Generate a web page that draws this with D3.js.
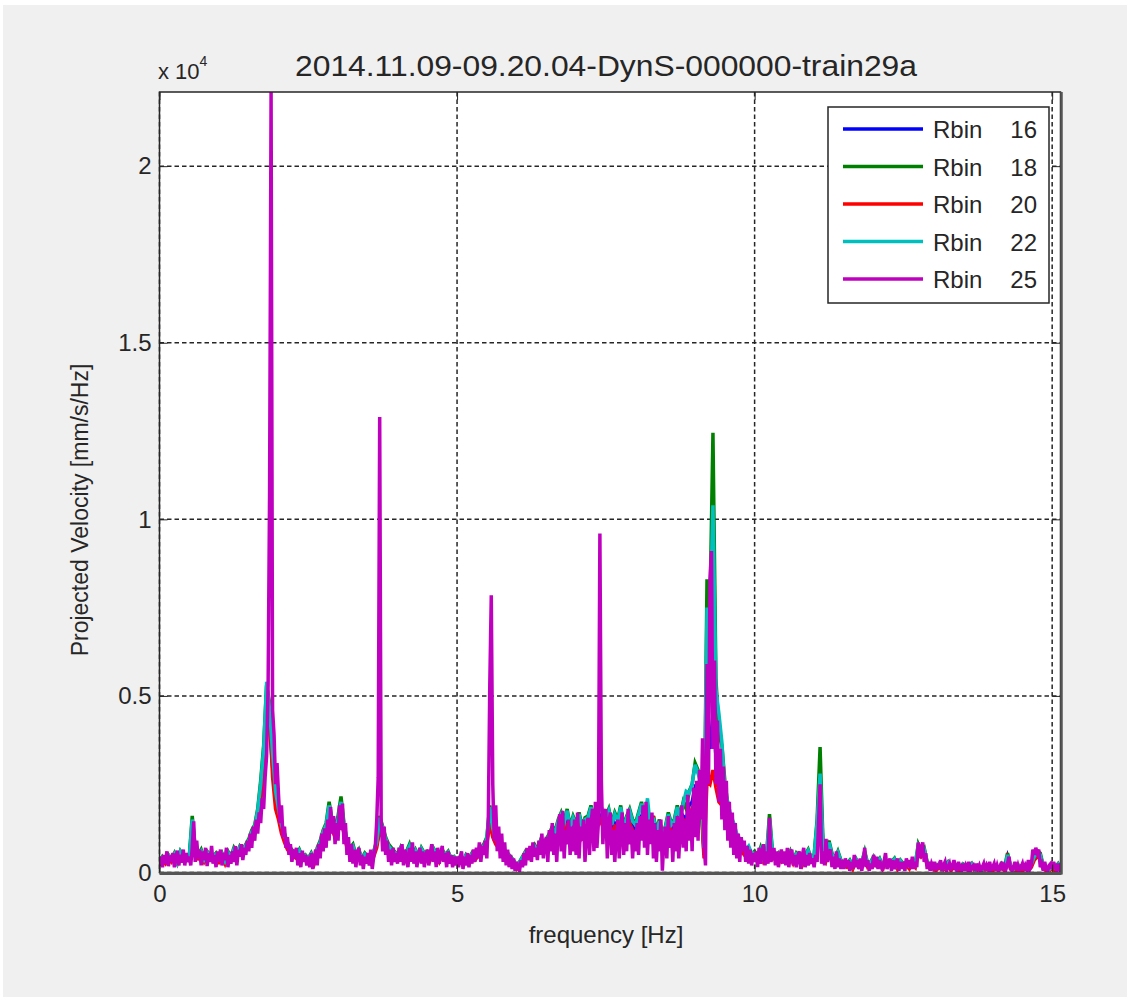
<!DOCTYPE html>
<html>
<head>
<meta charset="utf-8">
<script src="https://cdn.jsdelivr.net/npm/d3@7"></script>
<style>
  body { margin: 0; background: #fff; }
  svg text { font-family: "Liberation Sans", Arial, Helvetica, sans-serif; fill: #262626; }
</style>
</head>
<body>
<div id="container"></div>
<script>
// spectrum values, mm/s/Hz
var titleText = '2014.11.09-09.20.04-DynS-000000-train29a';
var xTicks = [0, 5, 10, 15];
var yTicks = [0, 5000, 10000, 15000, 20000];
var yTickLabels = ['0', '0.5', '1', '1.5', '2'];
var binLabels = ['16', '18', '20', '22', '25'];
var binColors = ['#0000ff', '#008000', '#ff0000', '#00bfbf', '#bf00bf'];
var dfCoarse = 0.05;  // Hz per sample, Rbin 16..22
var dfFine = 0.025;   // Hz per sample, Rbin 25

var rbin16 = [
  250, 400, 300, 450, 350, 500, 300, 550, 400, 450,
  400, 1300, 600, 450, 550, 350, 500, 450, 400, 500,
  350, 500, 300, 550, 400, 600, 500, 650, 600, 700,
  850, 1000, 1200, 1600, 2300, 3200, 4300, 4100, 3000, 2100,
  1700, 1300, 1000, 750, 600, 550, 450, 550, 400, 450,
  350, 500, 300, 600, 800, 1000, 1200, 1600, 1300, 1100,
  1300, 1700, 1200, 800, 600, 700, 450, 550, 350, 500,
  400, 300, 500, 800, 1300, 1100, 850, 700, 600, 500,
  450, 600, 400, 550, 700, 450, 550, 400, 600, 500,
  550, 400, 600, 500, 350, 550, 450, 500, 350, 400,
  300, 400, 250, 450, 350, 500, 400, 500, 600, 700,
  900, 1500, 1100, 900, 800, 700, 550, 500, 400, 300,
  150, 250, 400, 500, 450, 600, 700, 550, 800, 650,
  800, 950, 1100, 1000, 1300, 1400, 1200, 1500, 1100, 1300,
  1200, 1400, 1100, 1300, 1350, 1600, 1300, 1500, 1600, 1400,
  1300, 1500, 1200, 1400, 1300, 1600, 1100, 1300, 1500, 1300,
  1200, 1400, 1600, 1300, 1500, 1100, 1300, 1000, 1300, 900,
  1100, 1400, 1200, 1300, 1600, 1300, 1600, 1500, 1900, 2000,
  2400, 2300, 2100, 500, 4000, 3500, 4500, 3300, 2800, 2600,
  2000, 1500, 1200, 1000, 850, 750, 650, 500, 600, 450,
  500, 400, 600, 350, 450, 1300, 500, 400, 450, 350,
  450, 350, 500, 300, 450, 400, 250, 450, 550, 350,
  400, 1200, 2500, 650, 400, 750, 450, 350, 500, 300,
  250, 200, 300, 150, 350, 200, 250, 500, 200, 250,
  400, 250, 350, 150, 300, 300, 250, 350, 150, 300,
  200, 250, 150, 300, 200, 650, 500, 600, 250, 150,
  150, 100, 200, 100, 150, 250, 100, 200, 150, 100,
  200, 150, 100, 200, 100, 150, 100, 100, 150, 100,
  100, 150, 100, 200, 100, 450, 150, 100, 100, 150,
  100, 150, 100, 200, 400, 500, 450, 150, 100, 100,
  150, 100, 200, 100
];

var rbin18 = [
  300, 450, 350, 500, 400, 550, 300, 600, 450, 500,
  450, 1600, 700, 500, 650, 400, 600, 500, 450, 550,
  400, 550, 350, 600, 450, 700, 550, 750, 650, 800,
  950, 1200, 1350, 1800, 2600, 3600, 5300, 4800, 3600, 2400,
  1900, 1400, 1100, 850, 700, 600, 500, 650, 450, 500,
  400, 550, 350, 700, 900, 1200, 1400, 2000, 1500, 1300,
  1600, 2150, 1400, 900, 700, 800, 500, 650, 400, 550,
  450, 350, 600, 900, 1600, 1300, 1000, 800, 700, 600,
  500, 700, 450, 600, 800, 500, 650, 450, 700, 550,
  600, 450, 700, 550, 400, 650, 500, 600, 400, 450,
  350, 450, 300, 500, 400, 550, 450, 600, 700, 800,
  1000, 1900, 1300, 1000, 900, 800, 600, 550, 450, 350,
  200, 300, 450, 600, 500, 700, 800, 650, 900, 750,
  950, 1100, 1300, 1200, 1500, 1700, 1450, 1800, 1300, 1600,
  1400, 1700, 1300, 1550, 1600, 1900, 1500, 1800, 2000, 1700,
  1600, 1800, 1400, 1700, 1500, 1900, 1300, 1600, 1800, 1500,
  1400, 1700, 2000, 1500, 1800, 1300, 1600, 1200, 1500, 1100,
  1300, 1700, 1400, 1500, 1900, 1600, 2000, 1800, 2300, 2500,
  3100, 2900, 2600, 600, 8300, 7400, 12450, 5500, 3900, 3600,
  2600, 1900, 1500, 1300, 1000, 900, 800, 600, 700, 500,
  600, 450, 700, 400, 500, 1650, 600, 450, 550, 400,
  500, 400, 600, 350, 550, 450, 300, 500, 650, 400,
  500, 1500, 3550, 800, 450, 900, 550, 400, 600, 350,
  300, 250, 350, 200, 400, 250, 300, 600, 250, 300,
  450, 300, 400, 200, 350, 250, 300, 400, 200, 350,
  250, 300, 200, 350, 250, 800, 600, 700, 300, 200,
  200, 150, 250, 100, 200, 300, 150, 250, 200, 150,
  250, 200, 150, 250, 100, 200, 150, 100, 200, 150,
  150, 200, 100, 250, 150, 550, 200, 100, 150, 200,
  150, 200, 100, 250, 500, 600, 550, 200, 150, 100,
  200, 150, 250, 100
];

var rbin20 = [
  200, 350, 250, 400, 300, 450, 250, 500, 350, 400,
  350, 1100, 550, 400, 500, 300, 450, 400, 350, 450,
  300, 450, 250, 500, 350, 550, 450, 600, 550, 650,
  800, 900, 1100, 1500, 2000, 2900, 4000, 4500, 2700, 1800,
  1500, 1100, 850, 650, 550, 450, 400, 500, 350, 400,
  300, 450, 250, 550, 700, 900, 1100, 1400, 1200, 1000,
  1200, 1500, 1100, 700, 550, 600, 400, 500, 300, 450,
  350, 250, 450, 700, 1200, 1000, 800, 650, 550, 450,
  400, 550, 350, 500, 650, 400, 500, 350, 550, 450,
  500, 350, 550, 450, 300, 500, 400, 450, 300, 350,
  250, 350, 200, 400, 300, 450, 350, 450, 550, 650,
  800, 1400, 1000, 800, 700, 600, 500, 450, 350, 250,
  100, 200, 350, 450, 400, 550, 650, 500, 750, 600,
  750, 900, 1000, 950, 1200, 1300, 1100, 1400, 1000, 1200,
  1100, 1300, 1000, 1200, 1250, 1500, 1200, 1400, 1500, 1300,
  1200, 1400, 1100, 1300, 1200, 1500, 1000, 1200, 1400, 1200,
  1100, 1300, 1500, 1200, 1400, 1000, 1600, 950, 1200, 850,
  1000, 1600, 1100, 1200, 1500, 1200, 1500, 1400, 1700, 1800,
  2100, 2000, 1900, 400, 2600, 2500, 2900, 2400, 2000, 1900,
  1600, 1200, 1000, 900, 750, 650, 550, 450, 500, 400,
  450, 350, 550, 300, 400, 1200, 450, 350, 400, 300,
  400, 300, 450, 250, 400, 350, 200, 400, 500, 300,
  350, 1000, 2200, 600, 350, 700, 400, 300, 450, 250,
  200, 150, 250, 100, 300, 150, 200, 450, 150, 200,
  350, 200, 300, 100, 250, 250, 200, 300, 100, 250,
  150, 200, 100, 250, 150, 600, 450, 550, 200, 100,
  100, 50, 150, 50, 100, 200, 50, 150, 100, 50,
  150, 100, 50, 150, 50, 100, 50, 50, 100, 50,
  50, 100, 50, 150, 50, 400, 100, 50, 50, 100,
  50, 100, 50, 150, 350, 450, 400, 100, 50, 50,
  100, 50, 150, 50
];

var rbin22 = [
  280, 420, 330, 480, 380, 520, 280, 580, 420, 480,
  430, 1500, 650, 480, 600, 380, 570, 480, 430, 520,
  380, 520, 330, 570, 430, 660, 520, 720, 620, 770,
  900, 1150, 1300, 1750, 2500, 3500, 5400, 4600, 3400, 2300,
  1800, 1350, 1050, 800, 650, 580, 480, 620, 430, 480,
  380, 520, 330, 650, 850, 1150, 1350, 1900, 1450, 1250,
  1500, 2000, 1350, 850, 650, 750, 480, 620, 380, 520,
  430, 330, 570, 850, 1550, 1250, 950, 750, 650, 570,
  480, 670, 430, 570, 750, 480, 620, 430, 670, 520,
  570, 430, 670, 520, 380, 620, 480, 570, 380, 430,
  330, 430, 280, 480, 380, 520, 430, 570, 670, 750,
  950, 1850, 1250, 950, 850, 750, 570, 520, 430, 330,
  180, 280, 430, 570, 480, 670, 750, 620, 850, 720,
  900, 1050, 1250, 1150, 1450, 1650, 1400, 1750, 1250, 1550,
  1350, 1650, 1250, 1500, 1550, 1850, 1450, 1750, 1950, 1650,
  1550, 1750, 1350, 1650, 1450, 1850, 1250, 1550, 1750, 1450,
  1350, 1650, 1950, 1450, 2100, 1250, 1550, 1150, 1450, 1050,
  1250, 1650, 1350, 1450, 1850, 1550, 1950, 2300, 2250, 2500,
  3050, 2800, 2500, 700, 7500, 7000, 10400, 5200, 4500, 3700,
  2300, 2000, 1600, 1400, 1100, 950, 850, 650, 750, 550,
  550, 430, 650, 380, 480, 1500, 570, 430, 520, 380,
  480, 380, 570, 330, 520, 430, 280, 480, 620, 380,
  480, 1400, 2800, 750, 430, 850, 520, 380, 570, 330,
  280, 230, 330, 180, 380, 230, 280, 570, 230, 280,
  430, 280, 380, 180, 330, 270, 280, 380, 180, 330,
  230, 280, 180, 330, 230, 750, 570, 650, 280, 180,
  180, 130, 230, 80, 180, 280, 130, 230, 180, 130,
  230, 180, 130, 230, 80, 180, 130, 80, 180, 130,
  130, 180, 80, 230, 130, 500, 180, 80, 130, 180,
  130, 180, 80, 230, 450, 550, 500, 180, 130, 80,
  180, 130, 230, 80
];

var rbin25 = [
  200, 450, 150, 500, 250, 600, 180, 480, 300, 550, 150, 420, 620, 200, 500, 280, 650, 200, 550, 300,
  450, 200, 700, 1450, 300, 900, 400, 650, 200, 600, 350, 700, 180, 550, 300, 750, 250, 500, 150, 600,
  300, 650, 200, 550, 350, 700, 150, 500, 250, 600, 300, 750, 200, 650, 450, 800, 350, 700, 500, 900,
  600, 1100, 700, 1300, 900, 1500, 1100, 1700, 1400, 2100, 1800, 2700, 3300, 5300, 10800, 22100, 4600, 3900, 2500, 3100,
  2200, 1400, 1900, 1000, 1300, 700, 1000, 500, 800, 300, 650, 400, 700, 200, 550, 150, 620, 300, 500, 200,
  450, 150, 550, 100, 400, 650, 200, 800, 400, 1100, 600, 1250, 700, 1500, 900, 1850, 1100, 1600, 800, 1400,
  900, 1900, 1200, 1950, 800, 1400, 500, 1000, 300, 800, 250, 650, 150, 550, 700, 200, 500, 100, 450, 250,
  550, 200, 650, 100, 450, 700, 1450, 2700, 12900, 1500, 600, 1300, 500, 900, 300, 650, 200, 700, 300, 550,
  250, 700, 300, 800, 200, 650, 400, 150, 700, 300, 850, 250, 600, 150, 500, 700, 250, 600, 150, 450,
  650, 200, 550, 800, 300, 600, 150, 700, 250, 500, 750, 300, 550, 150, 600, 250, 500, 150, 450, 200,
  450, 150, 400, 600, 100, 450, 200, 550, 150, 500, 250, 650, 300, 700, 400, 850, 300, 750, 500, 900,
  400, 1500, 5300, 7850, 2500, 900, 1900, 600, 1300, 400, 1100, 300, 850, 200, 650, 150, 500, 100, 400, 50,
  300, 100, 50, 350, 150, 550, 200, 700, 350, 750, 300, 850, 450, 700, 350, 900, 500, 1100, 400, 850,
  1000, 300, 1200, 600, 1400, 500, 1100, 300, 1300, 1650, 600, 1750, 400, 1200, 800, 1500, 500, 1300, 600, 1500,
  500, 1700, 400, 1300, 900, 1500, 300, 1200, 1550, 500, 1300, 1800, 600, 2000, 700, 1400, 9600, 2600, 800, 1600,
  1800, 400, 1400, 1700, 500, 1200, 300, 1000, 1500, 400, 1200, 1700, 500, 1400, 600, 1800, 800, 1300, 400, 1200,
  600, 1400, 500, 1600, 900, 1900, 700, 2000, 500, 1500, 800, 1700, 400, 1400, 300, 1200, 600, 1500, 50, 900,
  1300, 400, 1600, 700, 1200, 300, 1400, 600, 1600, 400, 1200, 1900, 700, 1500, 600, 2200, 900, 1800, 600, 2400,
  1000, 2600, 900, 2900, 1500, 3800, 800, 200, 5900, 2500, 8300, 9100, 3500, 6000, 2500, 4300, 2000, 3500, 1500, 3000,
  1200, 2600, 900, 2000, 700, 1700, 500, 1400, 400, 1100, 300, 1000, 600, 900, 300, 750, 250, 650, 200, 550,
  300, 600, 150, 700, 250, 550, 800, 200, 600, 250, 1550, 300, 500, 700, 200, 600, 150, 450, 650, 250,
  600, 200, 700, 150, 550, 650, 200, 500, 150, 450, 600, 100, 450, 700, 150, 500, 200, 550, 250, 400,
  150, 500, 300, 1400, 2500, 250, 600, 200, 950, 300, 550, 650, 150, 450, 100, 600, 150, 400, 100, 350,
  100, 400, 150, 350, 50, 300, 100, 500, 150, 350, 100, 400, 50, 300, 700, 150, 350, 50, 250, 100,
  500, 150, 450, 100, 350, 200, 50, 300, 550, 100, 250, 400, 50, 350, 100, 250, 400, 50, 300, 100,
  300, 50, 400, 150, 350, 100, 450, 100, 300, 150, 850, 400, 700, 850, 300, 550, 100, 300, 50, 250,
  150, 300, 50, 250, 100, 350, 50, 200, 300, 50, 150, 250, 50, 200, 350, 100, 50, 300, 150, 50,
  250, 50, 200, 100, 300, 50, 150, 200, 50, 250, 100, 200, 50, 150, 250, 50, 200, 100, 300, 50,
  150, 250, 50, 200, 50, 150, 300, 50, 200, 100, 250, 450, 100, 50, 150, 300, 50, 200, 50, 150,
  250, 50, 200, 100, 350, 100, 200, 650, 500, 700, 550, 650, 150, 250, 50, 300, 100, 50, 200, 250,
  100, 300, 150, 50, 250, 100, 200
];

(function(){
var W = 1130, H = 1002,
  box = {left: 159.5, right: 1060.5, top: 92, bottom: 872.5},
  series = [
    {label: binLabels[0], color: binColors[0], df: dfCoarse, values: rbin16},
    {label: binLabels[1], color: binColors[1], df: dfCoarse, values: rbin18},
    {label: binLabels[2], color: binColors[2], df: dfCoarse, values: rbin20},
    {label: binLabels[3], color: binColors[3], df: dfCoarse, values: rbin22},
    {label: binLabels[4], color: binColors[4], df: dfFine, values: rbin25}
  ],
  x = d3.scaleLinear().domain([0, 15.14]).range([box.left, box.right]),
  y = d3.scaleLinear().domain([0, 22100]).range([box.bottom, box.top]),
  svg = d3.select('#container').append('svg').attr('width', W).attr('height', H);

  svg.append('rect').attr('width', W).attr('height', H).attr('fill', '#fff');
  svg.append('rect').attr('x', 3).attr('y', 5).attr('width', W - 6).attr('height', H - 10)
    .attr('fill', '#f0f0f0');
  svg.append('rect').attr('x', box.left).attr('y', box.top)
    .attr('width', box.right - box.left).attr('height', box.bottom - box.top)
    .attr('fill', '#fff');

  svg.append('clipPath').attr('id', 'plotclip').append('rect')
    .attr('x', box.left).attr('y', box.top)
    .attr('width', box.right - box.left).attr('height', box.bottom - box.top);

  // grid
  var grid = svg.append('g').attr('class', 'grid')
    .attr('stroke', '#262626').attr('stroke-width', 1.5).attr('stroke-dasharray', '4.5,3');
  xTicks.forEach(function(t){
    grid.append('line').attr('x1', x(t)).attr('x2', x(t)).attr('y1', box.top).attr('y2', box.bottom);
  });
  yTicks.forEach(function(t){
    grid.append('line').attr('x1', box.left).attr('x2', box.right).attr('y1', y(t)).attr('y2', y(t));
  });

  // spectra
  var plot = svg.append('g').attr('clip-path', 'url(#plotclip)');
  series.forEach(function(s){
    var line = d3.line()
      .x(function(d, i){ return x(i * s.df); })
      .y(function(d){ return y(d); });
    plot.append('path').datum(s.values)
      .attr('d', line)
      .attr('fill', 'none')
      .attr('stroke', s.color)
      .attr('stroke-width', 3.5);
  });

  // axes box and ticks
  var xAxis = d3.axisBottom(x).tickValues(xTicks).tickSize(-8).tickPadding(12),
    yAxis = d3.axisLeft(y).tickValues(yTicks).tickSize(-8).tickPadding(8)
      .tickFormat(function(d, i){ return yTickLabels[i]; });
  var gx = svg.append('g').attr('transform', 'translate(0,' + box.bottom + ')').call(xAxis),
    gy = svg.append('g').attr('transform', 'translate(' + box.left + ',0)').call(yAxis);
  [gx, gy].forEach(function(g){
    g.select('.domain').remove();
    g.selectAll('line').attr('stroke', '#262626');
    g.selectAll('text').attr('font-size', 24).attr('fill', '#262626')
      .attr('font-family', '"Liberation Sans", Arial, sans-serif');
  });
  svg.append('g').attr('transform', 'translate(0,' + box.top + ')')
    .call(d3.axisTop(x).tickValues(xTicks).tickSize(-8).tickFormat(''))
    .call(function(g){ g.select('.domain').remove(); g.selectAll('line').attr('stroke', '#262626'); });
  svg.append('g').attr('transform', 'translate(' + box.right + ',0)')
    .call(d3.axisRight(y).tickValues(yTicks).tickSize(-8).tickFormat(''))
    .call(function(g){ g.select('.domain').remove(); g.selectAll('line').attr('stroke', '#262626'); });

  svg.append('rect').attr('x', box.left).attr('y', box.top)
    .attr('width', box.right - box.left).attr('height', box.bottom - box.top)
    .attr('fill', 'none').attr('stroke', '#262626').attr('stroke-width', 1.5);
  svg.append('line').attr('x1', box.left).attr('x2', box.right + 1)
    .attr('y1', box.bottom + 1).attr('y2', box.bottom + 1)
    .attr('stroke', '#555').attr('stroke-width', 3);
  svg.append('line').attr('x1', box.right + 1).attr('x2', box.right + 1)
    .attr('y1', box.top).attr('y2', box.bottom + 2)
    .attr('stroke', '#555').attr('stroke-width', 2.5);

  // texts
  svg.append('text').attr('x', 606).attr('y', 76).attr('text-anchor', 'middle')
    .attr('font-size', 29).attr('textLength', 622).attr('lengthAdjust', 'spacingAndGlyphs')
    .text(titleText);
  var mult = svg.append('text').attr('x', 158).attr('y', 79).attr('font-size', 22);
  mult.append('tspan').text('x 10');
  mult.append('tspan').attr('dy', -13).attr('font-size', 14).text('4');
  svg.append('text').attr('x', 606).attr('y', 943).attr('text-anchor', 'middle')
    .attr('font-size', 24).text('frequency [Hz]');
  svg.append('text').attr('transform', 'translate(88,510) rotate(-90)')
    .attr('text-anchor', 'middle').attr('font-size', 23)
    .text('Projected Velocity [mm/s/Hz]');

  // legend
  var leg = svg.append('g');
  leg.append('rect').attr('x', 828).attr('y', 107).attr('width', 221).attr('height', 196)
    .attr('fill', '#fff').attr('stroke', '#262626').attr('stroke-width', 1.5);
  series.forEach(function(s, i){
    var cy = 129 + i * 37.5;
    leg.append('line').attr('x1', 843).attr('x2', 923).attr('y1', cy).attr('y2', cy)
      .attr('stroke', s.color).attr('stroke-width', 3.5);
    leg.append('text').attr('x', 933).attr('y', cy + 9).attr('font-size', 24).text('Rbin');
    leg.append('text').attr('x', 1037).attr('y', cy + 9).attr('font-size', 24)
      .attr('text-anchor', 'end').text(s.label);
  });
})();
</script>
</body>
</html>
